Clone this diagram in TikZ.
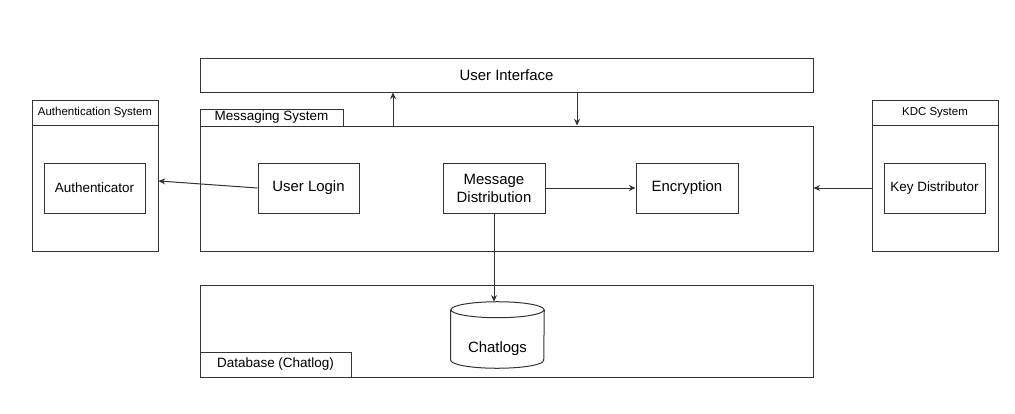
\documentclass[tikz,border=0pt]{standalone}
\usepackage{fontspec}
\setmainfont{Liberation Sans}
\usetikzlibrary{arrows.meta}
\usetikzlibrary{calc}
\usepackage{xcolor}
\definecolor{linegray}{RGB}{51,51,51}

\tikzset{
	box/.style={draw=linegray,line width=0.75pt,rectangle,inner sep=0pt,align=center},
	bigtext/.style={font=\fontsize{11.2}{13.5}\selectfont},
	midtext/.style={font=\fontsize{10.1}{12}\selectfont},
	smalltext/.style={font=\fontsize{8.6}{10}\selectfont},
	conn/.style={->,>={Stealth[length=5pt,width=4.5pt]},draw=linegray,line width=0.75pt}
}

\begin{document}
\begin{tikzpicture}[x=0.75pt,y=-0.75pt]
	\useasboundingbox (0,0) rectangle (1015,414);

	% top and main blocks
	\node(ui) at (506.5,75)[box,bigtext,minimum width=459.75pt,minimum height=25.5pt]{User Interface};
	\node(msg) at (506.5,188.5)[box,minimum width=459.75pt,minimum height=93.75pt]{};
	\node(msgtab) at (271.5,117.5)[box,midtext,minimum width=107.25pt,minimum height=12.75pt]{Messaging System};

	\node(login) at (308.5,188)[box,bigtext,minimum width=75.75pt,minimum height=37.5pt]{User Login};
	\node(dist) at (494,188)[box,bigtext,minimum width=76.5pt,minimum height=37.5pt]{Message\\Distribution};
	\node(enc) at (687,188)[box,bigtext,minimum width=76.5pt,minimum height=37.5pt]{Encryption};

	% side systems
	\node(authsys) at (95,175.5)[box,minimum width=94.5pt,minimum height=113.25pt]{};
	\node(authtitle) at (95,112.5)[box,smalltext,minimum width=94.5pt,minimum height=18.75pt]{Authentication System};
	\node(auth) at (94.5,188)[box,midtext,minimum width=75.75pt,minimum height=37.5pt]{Authenticator};

	\node(kdcsys) at (935,175.5)[box,minimum width=94.5pt,minimum height=113.25pt]{};
	\node(kdctitle) at (935,112.5)[box,smalltext,minimum width=94.5pt,minimum height=18.75pt]{KDC System};
	\node(keyd) at (934.5,188)[box,midtext,minimum width=75.75pt,minimum height=37.5pt]{Key Distributor};

	% database
	\node(db) at (506.5,331)[box,minimum width=459.75pt,minimum height=69pt]{};
	\node(dbtab) at (275.5,364.5)[box,midtext,minimum width=113.25pt,minimum height=18.75pt]{Database (Chatlog)};

	\node(chat) at (497.5,335)[rectangle,inner sep=0pt,minimum width=69.75pt,minimum height=49.5pt]{};
	\draw[linegray,line width=0.75pt] ([yshift=-6pt]chat.north west) -- ([yshift=6pt]chat.south west)
		arc[start angle=180,end angle=360,x radius=34.875pt,y radius=6pt] -- ([yshift=-6pt]chat.north east);
	\draw[linegray,line width=0.75pt] ([yshift=-6pt]chat.north) ellipse[x radius=34.875pt,y radius=6pt];
	\node(chatlbl) at ([yshift=-10pt]chat.center)[bigtext]{Chatlogs};

	% connectors
	\coordinate(upx) at (393,0);
	\coordinate(downx) at (577,0);
	\draw[conn] (msg.north -| upx) -- (ui.south -| upx);
	\draw[conn] (ui.south -| downx) -- (msg.north -| downx);
	\draw[conn] (login.west) -- ([yshift=-4.1pt]authsys.east);
	\draw[conn] (keyd.west -| kdcsys.west) -- (keyd.west -| msg.east);
	\draw[conn] (dist.east) -- (enc.west);
	\draw[conn] (dist.south) -- (dist.south |- chat.north);
\end{tikzpicture}
\end{document}
